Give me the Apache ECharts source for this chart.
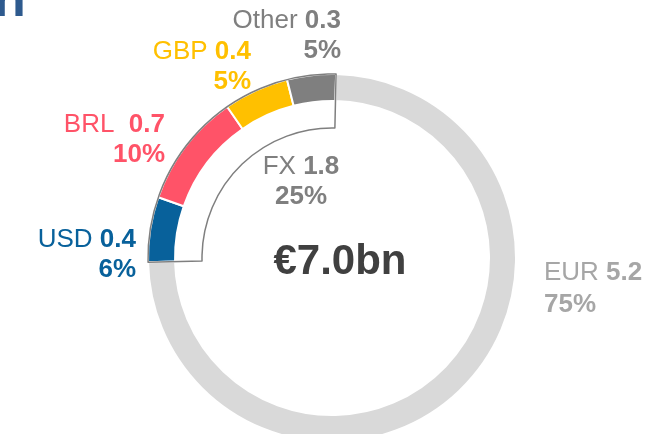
<!DOCTYPE html>
<html>
<head>
<meta charset="utf-8">
<script src="https://cdn.jsdelivr.net/npm/echarts@6/dist/echarts.min.js"></script>
<style>
  html, body { margin: 0; padding: 0; background: #ffffff; }
  #chart { width: 666px; height: 434px; }
</style>
</head>
<body>
<div id="chart"></div>
<script>
// Revenue by currency, €bn
const currencies = ['USD', 'BRL', 'GBP', 'Other', 'EUR'];
const labelNames = ['USD', 'BRL ', 'GBP', 'Other', 'EUR'];
const amounts = [0.4, 0.7, 0.4, 0.3, 5.2];
const shares = ['6%', '10%', '5%', '5%', '75%'];
const fxName = 'FX';
const fxShare = '25%';
const titleFragment = 'n';

const ringColors = ['#08619b', '#ff5368', '#ffc000', '#7f7f7f', '#d9d9d9'];
const textColors = ['#08619b', '#ff5368', '#ffc000', '#7f7f7f', '#a6a6a6'];

const FONT = '"Liberation Sans", Arial, sans-serif';
const CX = 332, CY = 258;
const START = 181.3;

const total = amounts.reduce((a, b) => a + b, 0);
const eurIndex = currencies.indexOf('EUR');
const fxTotal = amounts.reduce((a, b, i) => i === eurIndex ? a : a + b, 0);

// label anchors: x, y of first line, y of second line, alignment
const labelPos = [
  { x: 136, y1: 240, y2: 270, align: 'right' },
  { x: 165, y1: 125, y2: 155, align: 'right' },
  { x: 251, y1: 52, y2: 82, align: 'right' },
  { x: 341, y1: 21, y2: 51, align: 'right' },
  { x: 544, y1: 273, y2: 305, align: 'left' }
];

function twoLineLabel(name, value, share, color, pos) {
  return [
    {
      type: 'text', x: pos.x, y: pos.y1, silent: true,
      style: {
        text: '{n|' + name + ' }{v|' + value.toFixed(1) + '}',
        align: pos.align, verticalAlign: 'middle',
        rich: {
          n: { fontFamily: FONT, fontSize: 26, fontWeight: 'normal', fill: color, color: color },
          v: { fontFamily: FONT, fontSize: 26, fontWeight: 'bold', fill: color, color: color }
        }
      }
    },
    {
      type: 'text', x: pos.x, y: pos.y2, silent: true,
      style: {
        text: share, align: pos.align, verticalAlign: 'middle',
        fontFamily: FONT, fontSize: 26, fontWeight: 'bold', fill: color
      }
    }
  ];
}

const graphics = [];
currencies.forEach((c, i) => {
  graphics.push(...twoLineLabel(labelNames[i], amounts[i], shares[i], textColors[i], labelPos[i]));
});
graphics.push(...twoLineLabel(fxName, fxTotal, fxShare, '#7f7f7f', { x: 301, y1: 167, y2: 197, align: 'center' }));
graphics.push({
  type: 'text', x: 340, y: 262, silent: true,
  style: {
    text: '€' + total.toFixed(1) + 'bn', align: 'center', verticalAlign: 'middle',
    fontFamily: FONT, fontSize: 42, fontWeight: 'bold', fill: '#404040'
  }
});
graphics.push({
  type: 'text', x: -6, y: 2, silent: true,
  style: {
    text: titleFragment, align: 'left', verticalAlign: 'middle',
    fontFamily: FONT, fontSize: 52, fontWeight: 'bold', fill: '#2e5a8e'
  }
});

const chart = echarts.init(document.getElementById('chart'), null, { renderer: 'canvas' });
chart.setOption({
  animation: false,
  backgroundColor: '#ffffff',
  series: [
    {
      type: 'pie',
      center: [CX, CY],
      radius: [157, 184],
      startAngle: START,
      clockwise: true,
      silent: true,
      label: { show: false },
      labelLine: { show: false },
      emphasis: { disabled: true },
      itemStyle: { borderColor: '#ffffff', borderWidth: 2 },
      data: currencies.map((c, i) => ({ name: c, value: amounts[i], itemStyle: { color: ringColors[i] } })),
      z: 2
    },
    {
      type: 'pie',
      center: [CX, CY],
      radius: [130, 184],
      startAngle: START,
      clockwise: true,
      silent: true,
      label: { show: false },
      labelLine: { show: false },
      emphasis: { disabled: true },
      data: [
        { name: fxName, value: fxTotal,
          itemStyle: { color: 'rgba(255,255,255,0)', borderColor: '#7f7f7f', borderWidth: 1.5 } },
        { name: 'EUR', value: amounts[eurIndex],
          itemStyle: { color: 'rgba(255,255,255,0)', borderWidth: 0 } }
      ],
      z: 3
    }
  ],
  graphic: graphics
});
</script>
</body>
</html>
